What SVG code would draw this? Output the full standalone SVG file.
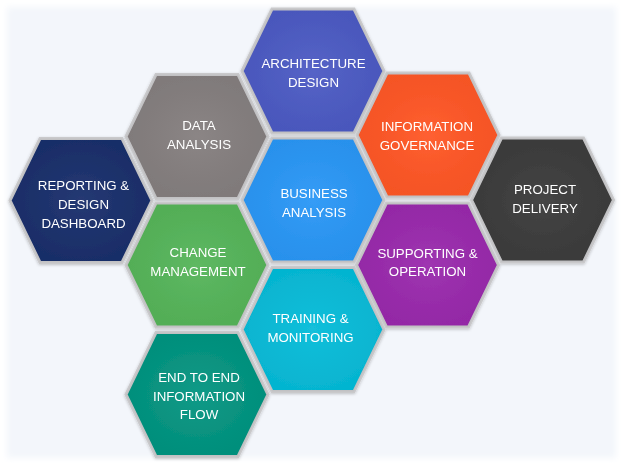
<svg xmlns="http://www.w3.org/2000/svg" xmlns:xlink="http://www.w3.org/1999/xlink" width="623" height="465" viewBox="0 0 623 465">
<style>
.hex{stroke:#c9c9cb;stroke-width:3;stroke-linejoin:miter}
.lbl{font-family:"Liberation Sans",Arial,sans-serif;font-size:13.3px;fill:#ffffff;text-anchor:middle}
</style>
<defs>
<filter id="soft" x="-5%" y="-5%" width="110%" height="110%"><feGaussianBlur stdDeviation="3"/></filter>
<filter id="sh" x="-20%" y="-20%" width="140%" height="140%"><feDropShadow dx="0" dy="1" stdDeviation="1.5" flood-color="#000" flood-opacity="0.22"/></filter>
<radialGradient id="glow" cx="0.5" cy="0.5" r="0.5">
<stop offset="0" stop-color="#fff" stop-opacity="0.05"/>
<stop offset="1" stop-color="#000" stop-opacity="0.04"/>
</radialGradient>
<polygon id="hex" points="-71,0 -41,-62 41,-62 71,0 41,62 -41,62"/>
</defs>
<rect width="623" height="465" fill="#ffffff"/>
<rect x="7" y="7" width="609" height="451" fill="#f3f6fb" filter="url(#soft)"/>
<g id="connectors"/>
<g filter="url(#sh)">
<g id="architecture-design" transform="translate(313,71)">
<use xlink:href="#hex" class="hex" fill="#4d5bc4"/><use xlink:href="#hex" fill="url(#glow)"/>
<text class="lbl" x="0.5" y="-2.7">ARCHITECTURE</text><text class="lbl" x="0.5" y="16.3">DESIGN</text>
</g>
<g id="data-analysis" transform="translate(197,136.5)">
<use xlink:href="#hex" class="hex" fill="#857f7f"/><use xlink:href="#hex" fill="url(#glow)"/>
<text class="lbl" x="2" y="-6.5">DATA</text><text class="lbl" x="2" y="12">ANALYSIS</text>
</g>
<g id="information-governance" transform="translate(428,135)">
<use xlink:href="#hex" class="hex" fill="#ff5726"/><use xlink:href="#hex" fill="url(#glow)"/>
<text class="lbl" x="-1" y="-4">INFORMATION</text><text class="lbl" x="-1" y="15">GOVERNANCE</text>
</g>
<g id="reporting-design-dashboard" transform="translate(81,200.5)">
<use xlink:href="#hex" class="hex" fill="#1a2f6c"/><use xlink:href="#hex" fill="url(#glow)"/>
<text class="lbl" x="2.5" y="-10.5">REPORTING &amp;</text><text class="lbl" x="2.5" y="8.5">DESIGN</text><text class="lbl" x="2.5" y="27">DASHBOARD</text>
</g>
<g id="business-analysis" transform="translate(313,200)">
<use xlink:href="#hex" class="hex" fill="#2a97f6"/><use xlink:href="#hex" fill="url(#glow)"/>
<text class="lbl" x="1" y="-1.7">BUSINESS</text><text class="lbl" x="1" y="16.7">ANALYSIS</text>
</g>
<g id="project-delivery" transform="translate(542.5,200)">
<use xlink:href="#hex" class="hex" fill="#3c3c3c"/><use xlink:href="#hex" fill="url(#glow)"/>
<text class="lbl" x="2.5" y="-6">PROJECT</text><text class="lbl" x="2.5" y="13">DELIVERY</text>
</g>
<g id="change-management" transform="translate(197,265)">
<use xlink:href="#hex" class="hex" fill="#56b55a"/><use xlink:href="#hex" fill="url(#glow)"/>
<text class="lbl" x="1" y="-8.5">CHANGE</text><text class="lbl" x="1" y="10.5">MANAGEMENT</text>
</g>
<g id="supporting-operation" transform="translate(427.5,265)">
<use xlink:href="#hex" class="hex" fill="#9a2aad"/><use xlink:href="#hex" fill="url(#glow)"/>
<text class="lbl" x="0" y="-7.5">SUPPORTING &amp;</text><text class="lbl" x="0" y="11">OPERATION</text>
</g>
<g id="training-monitoring" transform="translate(313,329.5)">
<use xlink:href="#hex" class="hex" fill="#06bcd9"/><use xlink:href="#hex" fill="url(#glow)"/>
<text class="lbl" x="-2.5" y="-7">TRAINING &amp;</text><text class="lbl" x="-2.5" y="12">MONITORING</text>
</g>
<g id="end-to-end-information-flow" transform="translate(197,394.5)">
<use xlink:href="#hex" class="hex" fill="#039581"/><use xlink:href="#hex" fill="url(#glow)"/>
<text class="lbl" x="2" y="-13">END TO END</text><text class="lbl" x="2" y="6">INFORMATION</text><text class="lbl" x="2" y="24.5">FLOW</text>
</g>
</g>
</svg>
